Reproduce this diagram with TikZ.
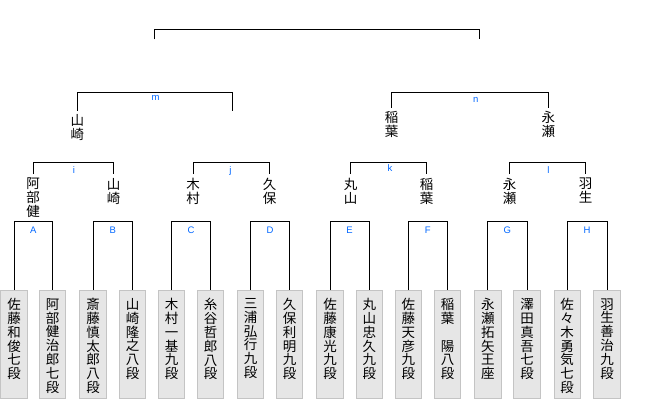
\documentclass[tikz,border=0pt]{standalone}
\usepackage{fontspec}
\setsansfont{Liberation Sans}
\newfontfamily\jpfont{Noto Sans CJK JP}
\definecolor{lblue}{RGB}{0,102,255}
\definecolor{boxfill}{RGB}{230,230,230}
\definecolor{boxline}{RGB}{196,196,196}
\newcommand\tate[1]{\parbox[c][92pt][t]{16pt}{\centering\jpfont\fontsize{13.5pt}{13.8pt}\selectfont #1}}

\begin{document}
\begin{tikzpicture}[
    x=1pt, y=-1pt,
    player/.style={
        rectangle, draw=boxline, fill=boxfill, line width=0.8pt,
        minimum width=26.5pt, minimum height=108pt,
        inner sep=0pt, anchor=north
    },
    win/.style={
        anchor=north, align=center, inner xsep=0pt, inner ysep=3.5pt,
        font=\jpfont\fontsize{13.5pt}{14pt}\selectfont
    },
    lbl/.style={anchor=base, text=lblue, inner sep=0pt, font=\sffamily\fontsize{9.5pt}{10pt}\selectfont},
    line width=1pt
]
\useasboundingbox (0,0) rectangle (660,400);

\node[player] (p1)  at (14,290)    {\tate{佐\\藤\\和\\俊\\七\\段}};
\node[player] (p2)  at (52.5,290)  {\tate{阿\\部\\健\\治\\郎\\七\\段}};
\node[player] (p3)  at (93,290)    {\tate{斎\\藤\\慎\\太\\郎\\八\\段}};
\node[player] (p4)  at (132.5,290) {\tate{山\\崎\\隆\\之\\八\\段}};
\node[player] (p5)  at (171.5,290) {\tate{木\\村\\一\\基\\九\\段}};
\node[player] (p6)  at (210.5,290) {\tate{糸\\谷\\哲\\郎\\八\\段}};
\node[player] (p7)  at (250.5,290) {\tate{三\\浦\\弘\\行\\九\\段}};
\node[player] (p8)  at (289.5,290) {\tate{久\\保\\利\\明\\九\\段}};
\node[player] (p9)  at (330,290)   {\tate{佐\\藤\\康\\光\\九\\段}};
\node[player] (p10) at (369.3,290) {\tate{丸\\山\\忠\\久\\九\\段}};
\node[player] (p11) at (408.3,290) {\tate{佐\\藤\\天\\彦\\九\\段}};
\node[player] (p12) at (447.5,290) {\tate{稲\\葉\\　\\陽\\八\\段}};
\node[player] (p13) at (487.8,290) {\tate{永\\瀬\\拓\\矢\\王\\座}};
\node[player] (p14) at (527,290)   {\tate{澤\\田\\真\\吾\\七\\段}};
\node[player] (p15) at (567.2,290) {\tate{佐\\々\\木\\勇\\気\\七\\段}};
\node[player] (p16) at (607,290)   {\tate{羽\\生\\善\\治\\九\\段}};

\coordinate (tA) at (33.2,221.5);
\coordinate (tB) at (112.7,221.5);
\coordinate (tC) at (191,221.5);
\coordinate (tD) at (270,221.5);
\coordinate (tE) at (349.6,221.5);
\coordinate (tF) at (427.8,221.5);
\coordinate (tG) at (507.4,221.5);
\coordinate (tH) at (587.1,221.5);

\draw (p1.north)  |- (tA) -| (p2.north);
\draw (p3.north)  |- (tB) -| (p4.north);
\draw (p5.north)  |- (tC) -| (p6.north);
\draw (p7.north)  |- (tD) -| (p8.north);
\draw (p9.north)  |- (tE) -| (p10.north);
\draw (p11.north) |- (tF) -| (p12.north);
\draw (p13.north) |- (tG) -| (p14.north);
\draw (p15.north) |- (tH) -| (p16.north);

\node[lbl] (A) at (33.2,233)  {A};
\node[lbl] (B) at (112.7,233) {B};
\node[lbl] (C) at (191,233)   {C};
\node[lbl] (D) at (270,233)   {D};
\node[lbl] (E) at (349.6,233) {E};
\node[lbl] (F) at (427.8,233) {F};
\node[lbl] (G) at (507.4,233) {G};
\node[lbl] (H) at (587.1,233) {H};

\node[win] (wA) at (33.2,174)  {阿\\部\\健};
\node[win] (wB) at (113.5,174) {山\\崎};
\node[win] (wC) at (193,174)   {木\\村};
\node[win] (wD) at (269.5,174) {久\\保};
\node[win] (wE) at (350.5,174) {丸\\山};
\node[win] (wF) at (426.5,174) {稲\\葉};
\node[win] (wG) at (509.5,174) {永\\瀬};
\node[win] (wH) at (585.5,174) {羽\\生};

\coordinate (ti) at (73.8,162.3);
\coordinate (tj) at (231.3,162.3);
\coordinate (tk) at (388.5,162.3);
\coordinate (tl) at (547.5,162.3);

\draw (wA.north) |- (ti) -| (wB.north);
\draw (wC.north) |- (tj) -| (wD.north);
\draw (wE.north) |- (tk) -| (wF.north);
\draw (wG.north) |- (tl) -| (wH.north);

\node[lbl] (i) at (74,173)  {i};
\node[lbl] (j) at (230.5,173) {j};
\node[lbl] (k) at (390,171) {k};
\node[lbl] (l) at (548.3,173) {l};

\node[win] (wi) at (77.3,110.5)  {山\\崎};
\coordinate (wj) at (232,110.5);
\node[win] (wk) at (391.7,107.5) {稲\\葉};
\node[win] (wl) at (548.3,107.5) {永\\瀬};

\coordinate (tm) at (154.6,92.3);
\coordinate (tn) at (470,92.3);

\draw (wi.north) |- (tm) -| (wj);
\draw (wk.north) |- (tn) -| (wl.north);

\node[lbl] (m) at (155.7,100.7) {m};
\node[lbl] (n) at (475.7,102.3) {n};

\coordinate (wm) at (154.3,39.3);
\coordinate (wn) at (479.3,39.3);
\coordinate (tt) at (316.8,29.7);

\draw (wm) |- (tt) -| (wn);

\end{tikzpicture}
\end{document}
